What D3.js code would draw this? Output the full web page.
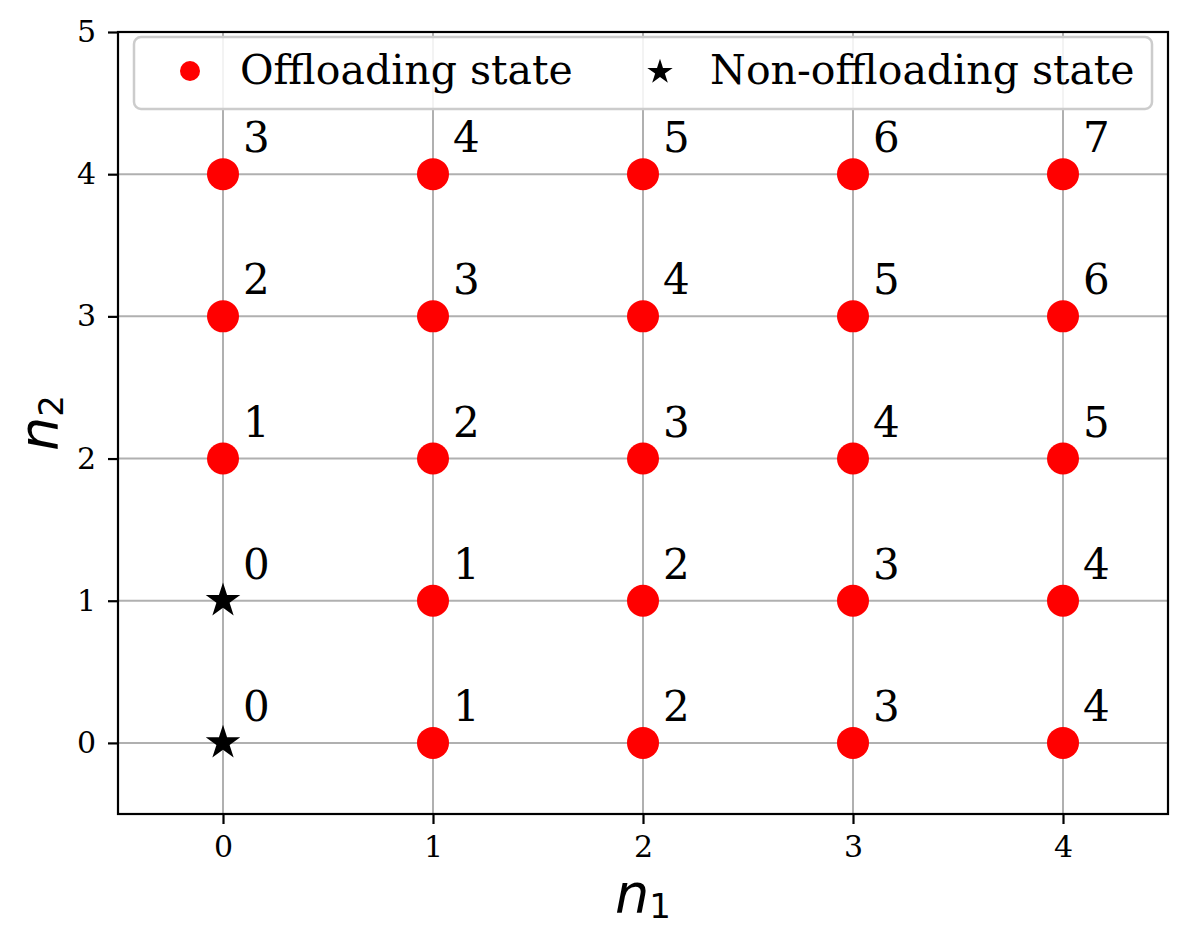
<!DOCTYPE html>
<html>
<head>
<meta charset="utf-8">
<script src="https://cdn.jsdelivr.net/npm/d3@7"></script>
<style>
  html, body { margin: 0; padding: 0; background: #fff; }
  svg { display: block; }
  .tick text { font-family: 'DejaVu Serif', serif; font-size: 30px; fill: #000; }
  .annot { font-family: 'DejaVu Serif', serif; font-size: 42px; fill: #000; }
  .legend-text { font-family: 'DejaVu Serif', serif; font-size: 41px; fill: #000; }
  .axis-label { font-family: 'DejaVu Sans', sans-serif; fill: #000; }
</style>
</head>
<body>
<div id="chart"></div>
<script>
(function(){
  // Axis ticks
  const n1Ticks = [0, 1, 2, 3, 4];
  const n2Ticks = [0, 1, 2, 3, 4, 5];

  // Offloading states (red dots) with their annotation values
  const offN1    = [1, 2, 3, 4,  1, 2, 3, 4,  0, 1, 2, 3, 4,  0, 1, 2, 3, 4,  0, 1, 2, 3, 4];
  const offN2    = [0, 0, 0, 0,  1, 1, 1, 1,  2, 2, 2, 2, 2,  3, 3, 3, 3, 3,  4, 4, 4, 4, 4];
  const offLabel = [1, 2, 3, 4,  1, 2, 3, 4,  1, 2, 3, 4, 5,  2, 3, 4, 5, 6,  3, 4, 5, 6, 7];

  // Non-offloading states (black stars)
  const nonN1    = [0, 0];
  const nonN2    = [0, 1];
  const nonLabel = [0, 0];

  const legendNames = ['Offloading state', 'Non-offloading state'];

  const width = 1189, height = 942;
  const margin = {top: 32, right: 21, bottom: 128, left: 118};
  const innerWidth = width - margin.left - margin.right;
  const innerHeight = height - margin.top - margin.bottom;

  const svg = d3.select('#chart').append('svg')
    .attr('width', width)
    .attr('height', height);

  const plot = svg.append('g')
    .attr('transform', `translate(${margin.left},${margin.top})`);

  const x = d3.scaleLinear().domain([-0.5, 4.5]).range([0, innerWidth]);
  const y = d3.scaleLinear().domain([-0.5, 5]).range([innerHeight, 0]);

  // Grid lines behind everything
  const grid = plot.append('g').attr('class', 'grid');
  grid.selectAll('line.gx').data(n1Ticks).join('line')
    .attr('class', 'gx')
    .attr('x1', d => x(d)).attr('x2', d => x(d))
    .attr('y1', 0).attr('y2', innerHeight)
    .attr('stroke', '#b0b0b0').attr('stroke-width', 2);
  grid.selectAll('line.gy').data(n2Ticks).join('line')
    .attr('class', 'gy')
    .attr('x1', 0).attr('x2', innerWidth)
    .attr('y1', d => y(d)).attr('y2', d => y(d))
    .attr('stroke', '#b0b0b0').attr('stroke-width', 2);

  // Tidy records
  const offPoints = offN1.map((d, i) => ({n1: d, n2: offN2[i], label: offLabel[i]}));
  const nonPoints = nonN1.map((d, i) => ({n1: d, n2: nonN2[i], label: nonLabel[i]}));

  plot.selectAll('circle.off').data(offPoints).join('circle')
    .attr('class', 'off')
    .attr('cx', d => x(d.n1))
    .attr('cy', d => y(d.n2))
    .attr('r', 16)
    .attr('fill', '#ff0000');

  const star = d3.symbol().type(d3.symbolStar).size(370);
  plot.selectAll('path.non').data(nonPoints).join('path')
    .attr('class', 'non')
    .attr('transform', d => `translate(${x(d.n1)},${y(d.n2)})`)
    .attr('d', star)
    .attr('fill', '#000');

  // Annotations next to every state
  plot.selectAll('text.annot').data(offPoints.concat(nonPoints)).join('text')
    .attr('class', 'annot')
    .attr('x', d => x(d.n1) + 20)
    .attr('y', d => y(d.n2) - 22)
    .text(d => d.label);

  // Axes
  const xAxis = d3.axisBottom(x).tickValues(n1Ticks).tickSize(10).tickPadding(12).tickFormat(d3.format('d'));
  const yAxis = d3.axisLeft(y).tickValues(n2Ticks).tickSize(10).tickPadding(12).tickFormat(d3.format('d'));

  const gx = plot.append('g')
    .attr('transform', `translate(0,${innerHeight})`)
    .call(xAxis);
  const gy = plot.append('g').call(yAxis);
  [gx, gy].forEach(g => {
    g.select('.domain').remove();
    g.selectAll('.tick line').attr('stroke', '#000').attr('stroke-width', 2.2);
    g.attr('font-family', null).attr('font-size', null);
  });

  // Frame
  plot.append('rect')
    .attr('x', 0).attr('y', 0)
    .attr('width', innerWidth).attr('height', innerHeight)
    .attr('fill', 'none')
    .attr('stroke', '#000')
    .attr('stroke-width', 2.2);

  // Legend
  const legend = svg.append('g').attr('class', 'legend');
  legend.append('rect')
    .attr('x', 134).attr('y', 37)
    .attr('width', 1018).attr('height', 72)
    .attr('rx', 7)
    .attr('fill', '#fff').attr('fill-opacity', 0.85)
    .attr('stroke', '#cccccc').attr('stroke-width', 2.5);

  const legendItems = [
    {name: legendNames[0], mx: 190, tx: 240},
    {name: legendNames[1], mx: 660, tx: 710}
  ];
  legend.append('circle')
    .attr('cx', legendItems[0].mx).attr('cy', 71)
    .attr('r', 10).attr('fill', '#ff0000');
  legend.append('path')
    .attr('transform', `translate(${legendItems[1].mx},72)`)
    .attr('d', d3.symbol().type(d3.symbolStar).size(200))
    .attr('fill', '#000');
  legend.selectAll('text.legend-text').data(legendItems).join('text')
    .attr('class', 'legend-text')
    .attr('x', d => d.tx)
    .attr('y', 84)
    .text(d => d.name);

  // Axis labels (math style n with subscripts)
  const xl = svg.append('text')
    .attr('class', 'axis-label')
    .attr('x', margin.left + innerWidth / 2)
    .attr('y', 912)
    .attr('text-anchor', 'middle');
  xl.append('tspan').attr('font-style', 'italic').attr('font-size', 54).text('n');
  xl.append('tspan').attr('font-size', 34).attr('dy', 6).text('1');

  const yl = svg.append('text')
    .attr('class', 'axis-label')
    .attr('transform', `translate(57,${margin.top + innerHeight / 2}) rotate(-90)`)
    .attr('text-anchor', 'middle');
  yl.append('tspan').attr('font-style', 'italic').attr('font-size', 54).text('n');
  yl.append('tspan').attr('font-size', 34).attr('dy', 6).text('2');
})();
</script>
</body>
</html>
